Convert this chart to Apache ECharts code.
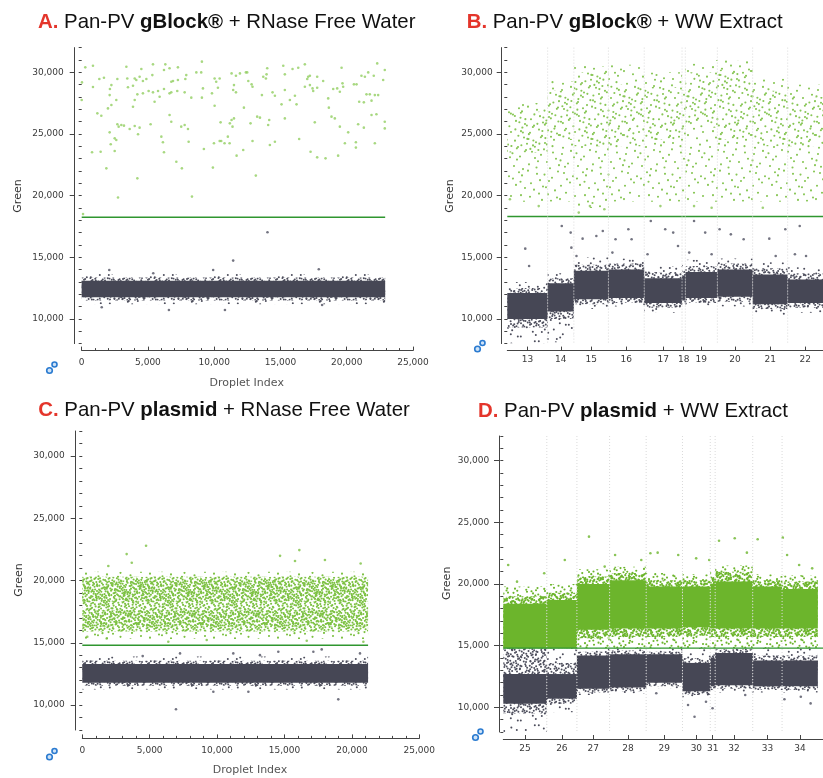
<!DOCTYPE html>
<html><head><meta charset="utf-8">
<script src="https://cdn.jsdelivr.net/npm/echarts@6.0.0/dist/echarts.min.js"></script>
<style>html,body{margin:0;padding:0;background:#fff}#c{width:823px;height:778px}</style>
</head><body><div id="c"></div><script>
// ---------------- DATA ----------------
const Y_TICKS = [10000, 15000, 20000, 25000, 30000];

// Panel A: gBlock + RNase free water (droplet index / green amplitude)
const A_threshold = 18250, A_end = 22900;
const A_graySolid = [[0, 22900, 11750, 13100]];
const A_grayFuzz = [[0, 22900, 11500, 13350]];
const A_graySparse = [[0, 22900, 11200, 13650]];
const A_greenPts = [[270,30400],[850,30530],[20,29180],[0,27750],[850,28800],[1330,29450],[1680,29560],[2130,28640],[2240,28960],[2690,29450],[3370,30450],[3440,29500],[3490,28780],[3870,28910],[4000,29500],[4120,29370],[4370,29640],[4500,30260],[4620,29290],[4880,29450],[5380,30640],[5330,29770],[6210,30180],[6310,30640],[6630,30320],[7260,30400],[6760,29230],[6890,29290],[7260,29370],[7820,29450],[7890,29770],[8650,29990],[9020,29990],[9070,30860],[9150,28690],[10030,29500],[10150,29230],[10280,28750],[10410,29500],[2110,28150],[2610,27750],[1980,27070],[2240,27340],[1180,26670],[1480,26480],[4200,28210],[4620,28290],[5050,28480],[5380,28370],[5760,28480],[6210,28640],[6630,28290],[6760,28370],[7210,28480],[7770,28370],[8270,27940],[9070,27940],[9830,28290],[10030,27290],[3870,27210],[4000,27750],[5500,27610],[5880,28020],[2690,25780],[2790,25590],[2990,25720],[3190,25670],[3620,25400],[4000,25640],[4370,25510],[5200,25780],[4250,24970],[2110,25130],[2490,24640],[2610,24510],[2190,24160],[2490,23620],[780,23510],[1430,23560],[6010,24780],[6130,24320],[6210,23510],[6630,26530],[6760,25990],[7510,25590],[7770,25720],[8020,25400],[8070,24370],[9220,23780],[9980,24240],[10410,24430],[10530,24430],[10780,24240],[11160,24240],[11030,24780],[10480,25940],[7140,22750],[7560,22210],[9900,22270],[1860,22210],[4200,21400],[2740,19840],[8320,19920],[100,18500],
[11310,29910],[11640,29720],[11940,29910],[12390,29990],[12490,29990],[11490,28960],[11430,28560],[11640,28370],[12820,29020],[12890,28830],[12570,29290],[13700,29640],[13900,29500],[14000,30320],[13950,29830],[15210,30530],[15330,29830],[15910,30260],[16340,30370],[16840,30640],[17090,29640],[17020,29450],[17220,29720],[17770,29640],[18220,29290],[16840,28830],[17220,28960],[17420,28690],[17770,28750],[17470,28480],[19610,30370],[18980,28640],[19280,28690],[19480,28420],[19680,29100],[19730,28830],[20540,29020],[20740,29020],[21110,29720],[21370,29640],[21620,29990],[22040,29720],[22300,30720],[22750,29370],[22870,30180],[21490,28210],[21740,28210],[22120,28150],[22370,28150],[20940,27610],[21290,27560],[21870,27700],[13600,28150],[14400,28370],[14580,28100],[15080,27400],[15330,28560],[15710,27750],[16090,28100],[16210,27400],[12240,27130],[11310,26130],[11490,26260],[11180,25860],[11380,25590],[13240,26400],[13450,26320],[12740,25860],[14150,26130],[14070,25720],[15330,26260],[17590,25940],[18600,27880],[18650,27130],[18850,26400],[19100,26260],[19480,25590],[20110,25130],[20860,25780],[21290,25510],[21870,26530],[22240,26590],[22870,25990],[22870,25450],[12890,24430],[12190,23700],[11690,23240],[14200,24100],[14580,24370],[16410,24590],[17270,23560],[17770,23100],[18400,23020],[19350,23240],[19860,24240],[20690,24320],[20690,23890],[22120,24240],[13140,21620]];
const A_grayPts = [[14020,17030],[11430,14730],[9920,13970],[17890,14030],[2080,13970],[5400,13700],[10810,10730],[6580,10730],[1510,10950],[18140,11130]];

// Panel B: gBlock + WW extract, wells 13..22
const wellsB = ['13','14','15','16','17','18','19','20','21','22'];
const dropletsB = [16000,10400,13700,14200,15000,1300,12700,14000,13900,14000];
const B_threshold = 18300;
const B_graySolid = [[0,10000,12100],[1,10600,12900],[2,11600,13900],[3,11700,14000],[4,11300,13300],[5,11500,13500],[6,11700,13800],[7,11800,14000],[8,11200,13600],[9,11300,13200]];
const B_grayFuzz = [[0,9300,12500],[1,10000,13300],[2,11200,14400],[3,11300,14500],[4,10900,13800],[5,11100,14000],[6,11300,14300],[7,11400,14500],[8,10800,14100],[9,10900,13700]];
const B_graySparse = [[0,8000,13000],[1,8100,13700],[2,10800,15000],[3,11000,14900],[4,10500,14300],[5,10800,14400],[6,11000,14800],[7,11000,14900],[8,10300,14600],[9,10500,14200]];
const B_greenSparse = [[0,19500,27500],[1,19500,29300],[2,19000,30500],[3,19500,30600],[4,19500,30000],[5,20000,29000],[6,19500,31000],[7,19500,31000],[8,19500,29500],[9,19500,29000]];
const B_greenDense = [[0,23500,26800],[1,24500,28500],[2,24000,30000],[3,24000,29000],[4,24500,28800],[5,25000,28500],[6,25500,30000],[7,24500,30200],[8,24000,28500],[9,24000,28000]];
const B_grayPts = [[7120,15700],[21600,17530],[25410,15780],[29870,16510],[35310,16720],[37870,17130],[42930,16460],[48000,17270],[49290,16460],[56900,17940],[62630,17270],[65790,17000],[67700,15910],[74060,17940],[78480,17000],[84190,17270],[88650,16860],[93730,16460],[103890,16510],[110250,17270],[114060,15240],[115970,17530],[118480,15100],[27430,15100],[32760,14160],[25140,17000],[41680,15380],[55620,15240],[72150,15380],[81030,15240],[106440,15100],[8650,14290]];
const B_greenPts = [[28340,18620],[32760,19150],[38480,18890],[1030,19700],[60720,19150],[74060,19150],[81030,19020],[101330,19020],[12460,19150]];

// Panel C: plasmid + RNase free water
const C_threshold = 14800, C_end = 21200;
const C_graySolid = [[0,21200,11800,13300]];
const C_grayFuzz = [[0,21200,11550,13550]];
const C_graySparse = [[0,21200,11250,13900]];
const C_greenSparse = [[0,21200,15300,20700]];
const C_greenMedium = [[0,21200,15900,20300]];
const C_greenDense = [[0,21200,18300,20000],[0,21200,16300,17600]];
const C_greenPts = [[4730,22790],[3290,22120],[3670,21420],[14670,21980],[16100,22440],[15780,21560],[18000,21640],[20650,21370],[1930,21160],[370,15480],[1810,15350],[6380,15080],[20850,15080],[9230,15220],[16650,15160]];
const C_grayPts = [[6950,9660],[18990,10460],[9720,11070],[12320,11070],[4480,13930],[11200,14150],[17140,14280],[17760,14470],[14540,14280],[7250,14150],[13180,14010],[20600,14150]];

// Panel D: plasmid + WW extract, wells 25..34
const wellsD = ['25','26','27','28','29','30','31','32','33','34'];
const dropletsD = [16900,11700,12700,14200,14100,10800,1900,14600,11400,13900];
const D_threshold = 14800;
const D_graySolid = [[0,10300,12700],[1,10700,12700],[2,11500,14200],[3,11600,14300],[4,12000,14300],[5,11300,13600],[6,11700,14000],[7,11800,14400],[8,11700,13800],[9,11700,13800]];
const D_grayFuzz = [[0,9500,14800],[1,10300,13600],[2,11200,14500],[3,11300,14600],[4,11700,14500],[5,11000,14000],[6,11400,14300],[7,11500,14700],[8,11400,14200],[9,11400,14200]];
const D_graySparse = [[0,8000,14800],[1,9600,14800],[2,11000,14800],[3,11100,14800],[4,11500,14800],[5,10800,14800],[6,11000,14800],[7,11200,14800],[8,11200,14800],[9,11200,14800]];
const D_greenSolid = [[0,14800,18400],[1,14800,18700],[2,16300,20000],[3,16400,20300],[4,16400,19800],[5,16500,19800],[6,16400,20000],[7,16400,20200],[8,16400,19800],[9,16400,19600]];
const D_greenFuzz = [[0,14800,19000],[1,14800,19300],[2,15600,20600],[3,15700,20900],[4,15700,20300],[5,15800,20300],[6,15700,20600],[7,15700,21000],[8,15700,20300],[9,15700,20200]];
const D_greenSparse = [[0,14800,19800],[1,14800,20000],[2,14800,21200],[3,14800,21400],[4,14800,20900],[5,14800,20800],[6,14800,21000],[7,14800,21500],[8,14800,20800],[9,14800,20700]];
const D_grayPts = [[74290,9240],[71770,10190],[78740,10450],[81290,9920],[59430,11140],[93980,11000],[109220,10650],[119390,10320],[115580,10860]];
const D_greenPts = [[1900,21540],[5330,20190],[15890,20870],[23890,21950],[33290,23840],[43430,22350],[57140,22490],[59960,22540],[67960,22350],[74930,22080],[80000,21950],[83810,23510],[89900,23710],[94630,22540],[98820,23630],[108570,23760],[110250,22350],[114930,21540],[120000,21270],[53600,21950],[39390,21410]];

// ---------------- STYLE / LAYOUT ----------------
const NUM = 'DejaVu Sans';
const TFONT = 'Liberation Sans';
const AX = '#444', LB = '#3a3a3a';
const GRAY = '#464755', GREEN = '#6cb52c';
const PXD = 0.002625; // px per droplet for well panels

// stipple texture tiles (a fill style only, quasi-uniform Halton layout)
function halton(i, b){ let f = 1, r = 0; while (i > 0){ f /= b; r += f * (i % b); i = Math.floor(i / b); } return r; }
function stipple(size, count, start, color, r){
  const c = document.createElement('canvas'); c.width = size; c.height = size;
  const g = c.getContext('2d'); g.fillStyle = color;
  for (let i = start; i < start + count; i++){
    const x = halton(i, 2) * size, y = halton(i, 3) * size;
    for (const dx of [-size, 0, size]) for (const dy of [-size, 0, size]){
      g.beginPath(); g.arc(x + dx, y + dy, r, 0, Math.PI * 2); g.fill();
    }
  }
  return {image: c, repeat: 'repeat'};
}
const T = 64;
const P = {
  grayM: stipple(T, 420, 1, '#4d4e5c', 1.0),
  grayS: stipple(T, 80, 700, '#4d4e5c', 1.0),
  bGreenS1: stipple(T, 70, 1, '#88c656', 1.05),
  bGreenS2: stipple(T, 80, 400, '#88c656', 1.05),
  cGreenS1: stipple(T, 90, 1, '#7cc142', 1.05),
  cGreenM: stipple(T, 430, 300, '#7cc142', 1.05),
  cGreenS2: stipple(T, 250, 1500, '#7cc142', 1.05),
  dGreenS: stipple(T, 200, 1, '#6cb52c', 1.05),
  dGreenM: stipple(T, 600, 900, '#6cb52c', 1.1)
};

// ---------------- HELPERS ----------------
const fmt = v => String(Math.round(v)).replace(/\B(?=(\d{3})+(?!\d))/g, ',');
function edges(counts){ const e=[0]; counts.forEach(c => e.push(e[e.length-1]+c)); return e; }
const edB = edges(dropletsB), edD = edges(dropletsD);
const centersOf = ed => ed.slice(0,-1).map((v,i) => (v+ed[i+1])/2);
const toBands = (ed, list) => list.map(([w,lo,hi]) => [ed[w], ed[w+1], lo, hi]);
const maxB = edB[edB.length-1], maxD = edD[edD.length-1] + 2000;

const grids = [
  {left:81.7, top:47.6, width:331.3, height:296},
  {left:507.3, top:47.6, width:maxB*PXD, height:296},
  {left:82.3, top:431, width:337, height:299},
  {left:503.3, top:436, width:maxD*PXD, height:296}
];

function xValAxis(gi, off, margin){
  return {type:'value', gridIndex:gi, position:'bottom', min:0, max:25000, interval:5000, offset:off,
    axisLine:{onZero:false, lineStyle:{color:AX, width:1}},
    axisTick:{inside:true, length:4, lineStyle:{color:AX}},
    minorTick:{show:true, splitNumber:5, length:2.5, lineStyle:{color:AX}},
    axisLabel:{formatter:fmt, fontSize:9, fontFamily:NUM, color:LB, margin:margin},
    splitLine:{show:false}, minorSplitLine:{show:false}};
}
function xWellAxis(gi, ed, names, max, off, margin){
  const cs = centersOf(ed);
  return {type:'value', gridIndex:gi, position:'bottom', min:0, max:max, offset:off,
    axisLine:{onZero:false, lineStyle:{color:AX, width:1}},
    axisTick:{inside:true, length:4, customValues:cs, lineStyle:{color:AX}},
    axisLabel:{customValues:cs, fontSize:9, fontFamily:NUM, color:LB, margin:margin,
      formatter: v => { let bi=0, bd=Infinity; cs.forEach((c,i)=>{ const d=Math.abs(c-v); if(d<bd){bd=d;bi=i;} }); return names[bi]; }},
    splitLine:{show:false}};
}
function yAxes(gi, off, margin){
  return [
    {type:'value', gridIndex:gi, position:'left', min:8000, max:32000, offset:off,
      axisLine:{show:true, onZero:false, lineStyle:{color:AX, width:1}},
      axisTick:{show:true, customValues:Y_TICKS, length:5, lineStyle:{color:AX}},
      axisLabel:{customValues:Y_TICKS, formatter:fmt, fontSize:9, fontFamily:NUM, color:LB, margin:margin},
      splitLine:{show:false}},
    {type:'value', gridIndex:gi, position:'left', min:8000, max:32000, interval:1000, offset:off,
      axisLine:{show:false}, axisTick:{show:true, length:3, lineStyle:{color:AX}},
      axisLabel:{show:false}, splitLine:{show:false}}
  ];
}
function band(gi, data, fill, z){
  return {type:'custom', xAxisIndex:gi, yAxisIndex:2*gi, data:data, z:z, silent:true, animation:false, clip:true,
    encode:{x:[0,1], y:[2,3]},
    renderItem:(p, api) => {
      const a = api.coord([api.value(0), api.value(3)]), b = api.coord([api.value(1), api.value(2)]);
      return {type:'rect', shape:{x:a[0], y:a[1], width:b[0]-a[0], height:b[1]-a[1]}, style:{fill:fill}};
    }};
}
function thr(gi, x1, y){
  return {type:'line', xAxisIndex:gi, yAxisIndex:2*gi, data:[[0,y],[x1,y]], symbol:'none', silent:true,
    animation:false, z:5, lineStyle:{color:'#2f962f', width:1.4}};
}
function pts(gi, data, color, size){
  return {type:'scatter', xAxisIndex:gi, yAxisIndex:2*gi, data:data, symbolSize:size, itemStyle:{color:color},
    silent:true, animation:false, z:6};
}
function bounds(gi, ed){
  return {type:'custom', xAxisIndex:gi, yAxisIndex:2*gi, data:ed.slice(1,-1).map(v => [v, 8000, 32000]),
    encode:{x:0, y:[1,2]}, z:7, silent:true, animation:false,
    renderItem:(p, api) => {
      const a = api.coord([api.value(0), 32000]), b = api.coord([api.value(0), 8000]);
      return {type:'line', shape:{x1:a[0], y1:a[1], x2:b[0], y2:b[1]}, style:{stroke:'#dadada', lineWidth:1, lineDash:[1,2]}};
    }};
}

const series = [
  // A
  band(0, A_graySparse, P.grayS, 1), band(0, A_grayFuzz, P.grayM, 2), band(0, A_graySolid, GRAY, 3),
  thr(0, A_end, A_threshold), pts(0, A_greenPts, '#92ce62', 2.6), pts(0, A_grayPts, '#505161', 2.6),
  // B
  band(1, toBands(edB, B_graySparse), P.grayS, 1), band(1, toBands(edB, B_grayFuzz), P.grayM, 2), band(1, toBands(edB, B_graySolid), GRAY, 3),
  band(1, toBands(edB, B_greenSparse), P.bGreenS1, 1), band(1, toBands(edB, B_greenDense), P.bGreenS2, 2),
  thr(1, maxB, B_threshold), pts(1, B_grayPts, '#505161', 2.6), pts(1, B_greenPts, '#88c656', 2.6), bounds(1, edB),
  // C
  band(2, C_graySparse, P.grayS, 1), band(2, C_grayFuzz, P.grayM, 2), band(2, C_graySolid, GRAY, 3),
  band(2, C_greenSparse, P.cGreenS1, 1), band(2, C_greenMedium, P.cGreenM, 2), band(2, C_greenDense, P.cGreenS2, 3),
  thr(2, C_end, C_threshold), pts(2, C_greenPts, '#7cc142', 2.6), pts(2, C_grayPts, '#505161', 2.6),
  // D
  band(3, toBands(edD, D_graySparse), P.grayS, 1), band(3, toBands(edD, D_grayFuzz), P.grayM, 2), band(3, toBands(edD, D_graySolid), GRAY, 3),
  band(3, toBands(edD, D_greenSparse), P.dGreenS, 1), band(3, toBands(edD, D_greenFuzz), P.dGreenM, 2), band(3, toBands(edD, D_greenSolid), GREEN, 3),
  thr(3, maxD, D_threshold), pts(3, D_grayPts, '#505161', 2.6), pts(3, D_greenPts, '#6cb52c', 2.6), bounds(3, edD)
];

function title(x, y, letter, pre, bold, post){
  return {type:'text', x:x, y:y, silent:true, style:{
    text:'{r|' + letter + '} ' + pre + ' {b|' + bold + '} ' + post,
    fontSize:20.4, fontFamily:TFONT, fill:'#111', verticalAlign:'middle',
    rich:{r:{fill:'#e4352b', fontWeight:'bold', fontSize:20.4, fontFamily:TFONT},
          b:{fill:'#111', fontWeight:'bold', fontSize:20.4, fontFamily:TFONT}}}};
}
function yName(x, y){
  return {type:'text', x:x, y:y, rotation:Math.PI/2, silent:true,
    style:{text:'Green', fontSize:11, fontFamily:NUM, fill:'#333', align:'center', verticalAlign:'middle'}};
}
function xName(x, y){
  return {type:'text', x:x, y:y, silent:true,
    style:{text:'Droplet Index', fontSize:11, fontFamily:NUM, fill:'#555', align:'center', verticalAlign:'middle'}};
}
function icon(x, y){
  return {type:'group', x:x, y:y, silent:true, children:[
    {type:'circle', shape:{cx:0, cy:0, r:2.8}, style:{fill:'#cfe3f7', stroke:'#2b7bd0', lineWidth:1.6}},
    {type:'circle', shape:{cx:5, cy:-6, r:2.5}, style:{fill:'#cfe3f7', stroke:'#2b7bd0', lineWidth:1.6}}
  ]};
}

const option = {
  backgroundColor:'#fff', animation:false,
  grid: grids,
  xAxis: [xValAxis(0, 7, 8), xWellAxis(1, edB, wellsB, maxB, 7, 5), xValAxis(2, 8.4, 8), xWellAxis(3, edD, wellsD, maxD, 7, 5)],
  yAxis: [].concat(yAxes(0, 7, 11), yAxes(1, 5.6, 9), yAxes(2, 6.6, 11), yAxes(3, 4.3, 9.7)),
  series: series,
  graphic: [
    title(38, 22, 'A.', 'Pan-PV', 'gBlock®', '+ RNase Free Water'),
    title(466.7, 22, 'B.', 'Pan-PV', 'gBlock®', '+ WW Extract'),
    title(38.3, 410, 'C.', 'Pan-PV', 'plasmid', '+ RNase Free Water'),
    title(478, 411.7, 'D.', 'Pan-PV', 'plasmid', '+ WW Extract'),
    yName(18.5, 196), yName(450, 196), yName(18.7, 580), yName(446.7, 583.3),
    xName(246.7, 383.3), xName(250, 770.5),
    icon(49.5, 370.5), icon(477.5, 349), icon(49.5, 757), icon(475.5, 737.5)
  ]
};
const chart = echarts.init(document.getElementById('c'), null, {renderer:'canvas'});
chart.setOption(option);
</script></body></html>
